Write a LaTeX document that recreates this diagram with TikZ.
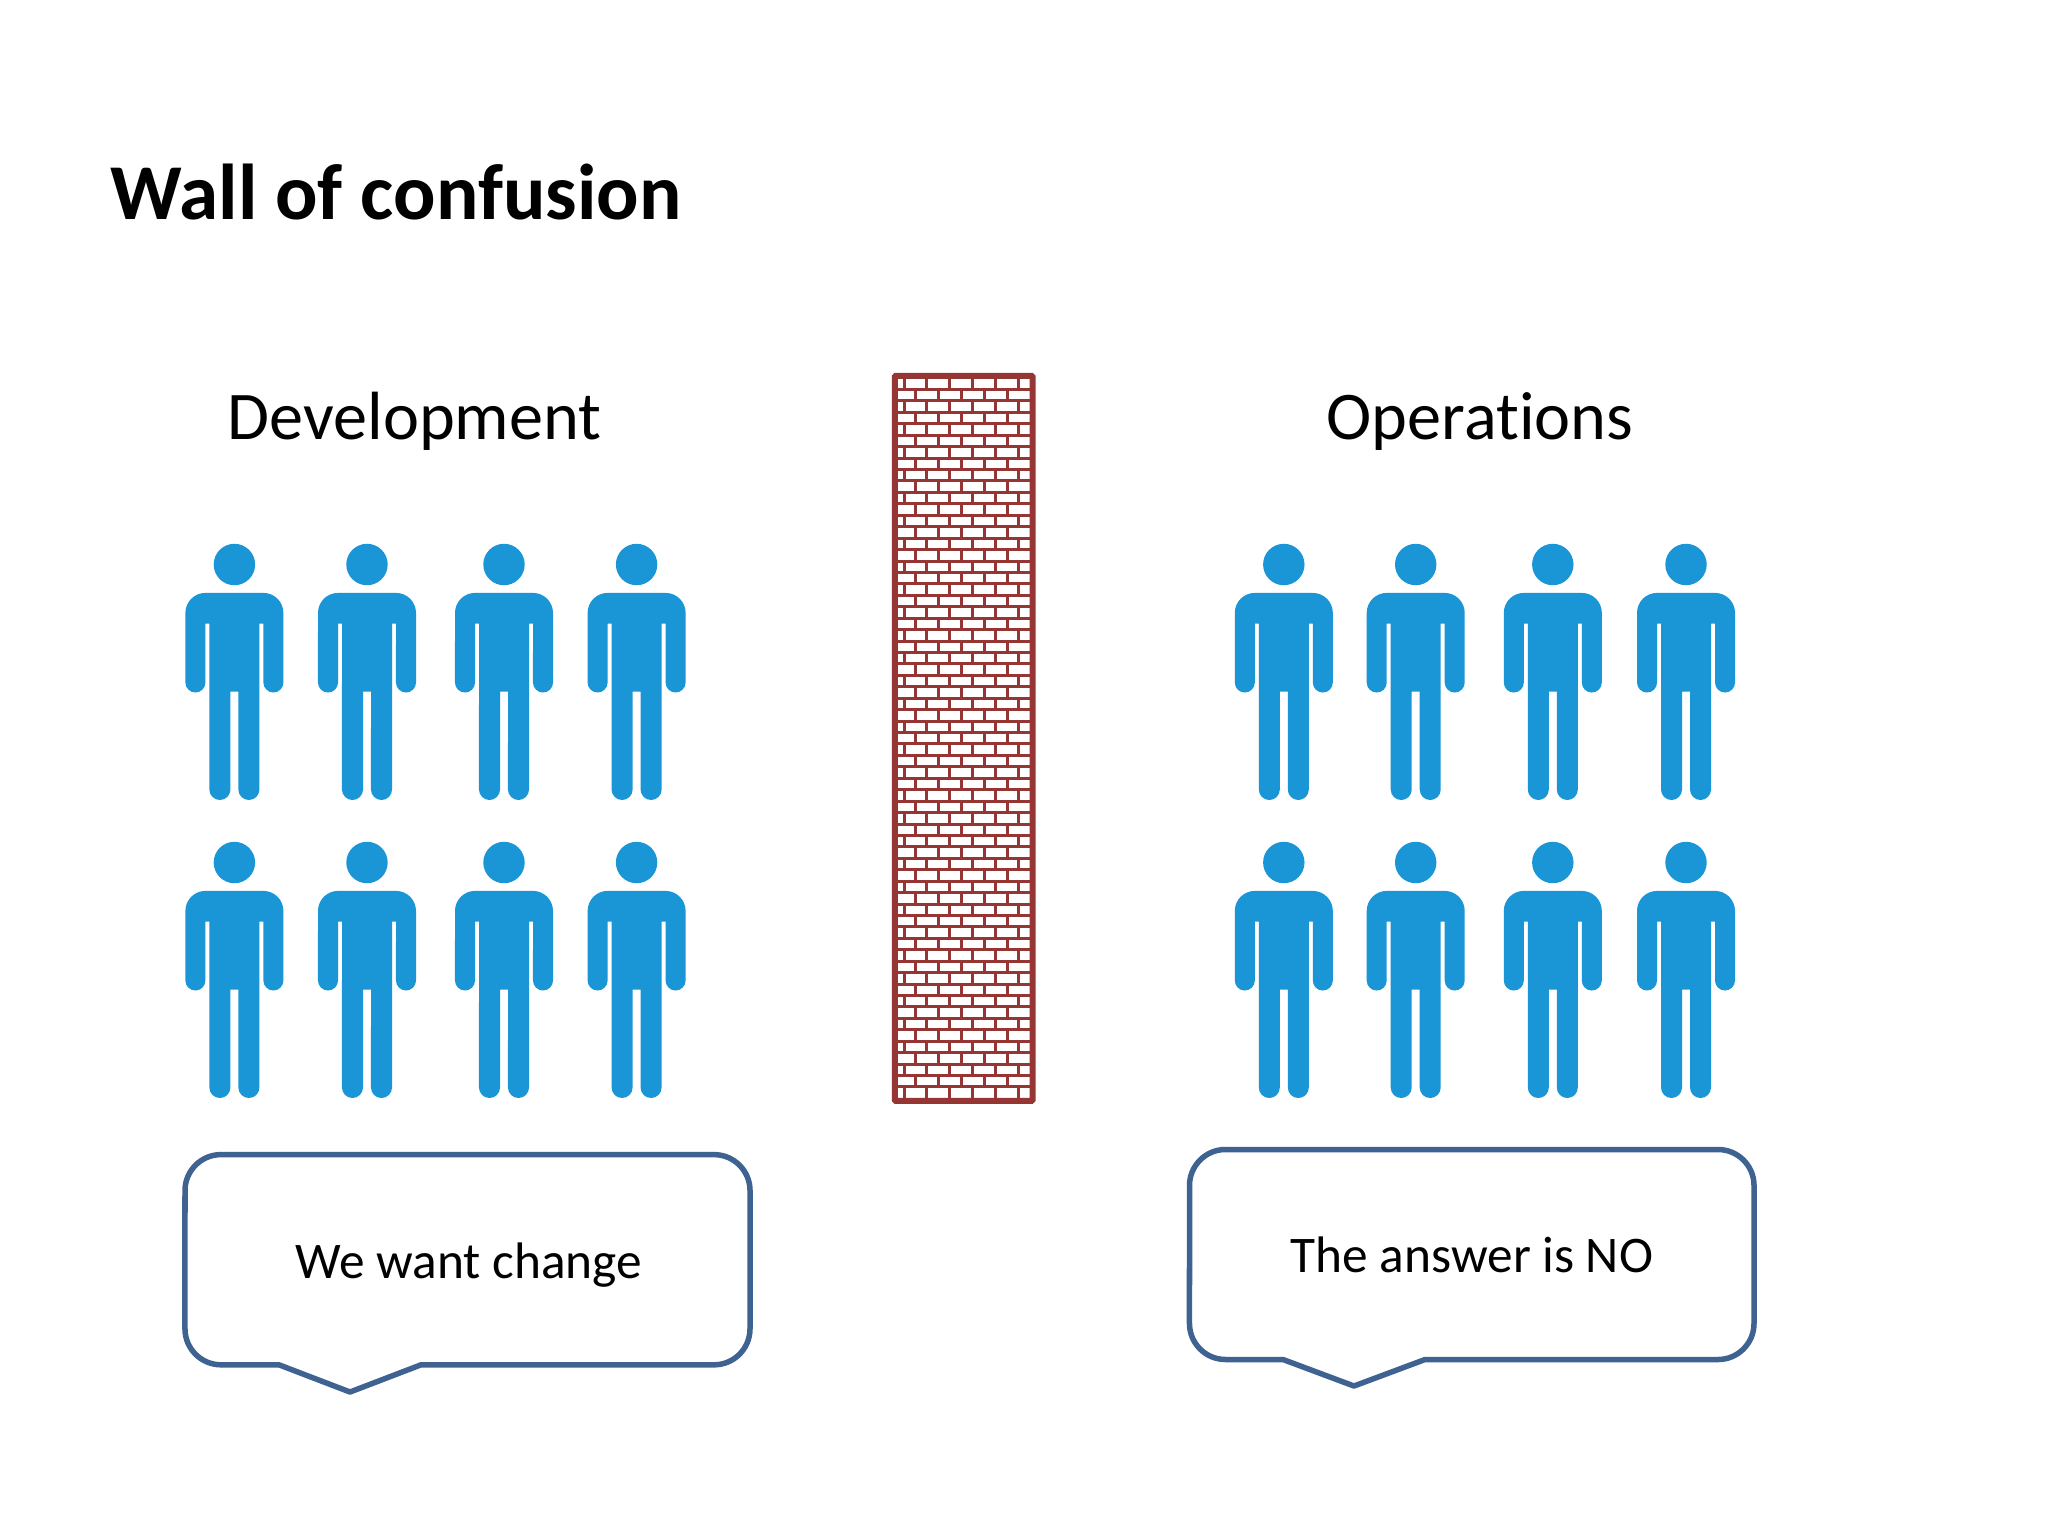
\documentclass[tikz,border=0pt]{standalone}
\usepackage{fontspec}
\setmainfont{Carlito}[Ligatures=NoCommon]
\definecolor{personblue}{HTML}{1A96D6}
\definecolor{wallred}{HTML}{963634}
\definecolor{bubbleblue}{HTML}{3E6391}
\tikzset{
  personshape/.pic={
    \fill[personblue] (0,1) circle[radius=0.207cm];
    \fill[personblue] (-29,29.4) -- (29,29.4) arc[start angle=90,end angle=0,radius=0.2cm] -- (49,119) arc[start angle=0,end angle=-180,radius=0.1cm] -- (29,60) -- (25,60) -- (25,226) arc[start angle=0,end angle=-180,radius=0.105cm] -- (4,128) -- (-4,128) -- (-4,226) arc[start angle=0,end angle=-180,radius=0.105cm] -- (-25,60) -- (-29,60) -- (-29,119) arc[start angle=0,end angle=-180,radius=0.1cm] -- (-49,49.4) arc[start angle=180,end angle=90,radius=0.2cm] -- cycle;
  },
  bubbleline/.style={draw=bubbleblue,line width=0.055cm,line join=round},
  mortar/.style={draw=wallred,line width=0.03cm},
  frameline/.style={draw=wallred,line width=0.06cm,rounded corners=0.01cm},
  titletext/.style={anchor=base west,inner sep=0,font=\bfseries\fontsize{22.5}{26}\selectfont,text=black},
  headtext/.style={anchor=base west,inner sep=0,font=\fontsize{19.4}{23}\selectfont,text=black},
  saytext/.style={anchor=base west,inner sep=0,font=\fontsize{14.6}{18}\selectfont,text=black},
}
\begin{document}
\begin{tikzpicture}[x=0.01cm,y=-0.01cm]
\useasboundingbox (0,0) rectangle (2048,1536);
\fill[white] (0,0) rectangle (2048,1536);
\node[titletext] (title) at (110,219) {Wall of confusion};
\node[headtext] (dev) at (227,439) {Development};
\node[headtext] (ops) at (1326,439) {Operations};
% people
\foreach \py in {563.5,861.5}{
  \foreach \px in {234.4,367,504,636.6,1283.8,1415.7,1552.8,1686}{
    \pic at (\px,\py) {personshape};
  }
}
% wall
\fill[white] (894.8,375.8) rectangle (1032.5,1100.8);
\begin{scope}
  \clip (894.8,375.8) rectangle (1032.5,1100.8);
  \foreach \r in {0,...,61}{
    \pgfmathsetmacro{\ly}{389.5+11.434*\r}
    \draw[mortar] (890,\ly) -- (1040,\ly);
  }
  \foreach \r in {0,...,62}{
    \pgfmathsetmacro{\ya}{378+11.434*\r}
    \pgfmathsetmacro{\yb}{389.5+11.434*\r}
    \pgfmathparse{int(mod(\r,2))}
    \ifnum\pgfmathresult=0
      \foreach \j in {0,...,5}{
        \pgfmathsetmacro{\vx}{904+22.85*\j}
        \draw[mortar] (\vx,\ya) -- (\vx,\yb);
      }
    \else
      \foreach \j in {0,...,4}{
        \pgfmathsetmacro{\vx}{915.7+22.85*\j}
        \draw[mortar] (\vx,\ya) -- (\vx,\yb);
      }
    \fi
  }
\end{scope}
\draw[frameline] (894.8,375.8) rectangle (1032.5,1100.8);
% bubbles
\draw[bubbleline] (221,1154.6) -- (714,1154.6) arc[start angle=90,end angle=0,radius=0.36cm]
  -- (750,1328.8) arc[start angle=0,end angle=-90,radius=0.36cm]
  -- (421,1364.8) -- (350,1392) -- (279,1364.8) -- (221,1364.8)
  arc[start angle=-90,end angle=-180,radius=0.36cm] -- (185,1190.6)
  arc[start angle=180,end angle=90,radius=0.36cm] -- cycle;
\draw[bubbleline] (1225.5,1149.5) -- (1718,1149.5) arc[start angle=90,end angle=0,radius=0.36cm]
  -- (1754,1323.5) arc[start angle=0,end angle=-90,radius=0.36cm]
  -- (1425,1359.5) -- (1354,1386) -- (1283,1359.5) -- (1225.5,1359.5)
  arc[start angle=-90,end angle=-180,radius=0.36cm] -- (1189.5,1185.5)
  arc[start angle=180,end angle=90,radius=0.36cm] -- cycle;
\node[saytext] (want) at (295,1278) {We want change};
\node[saytext] (no) at (1290,1272) {The answer is NO};
\end{tikzpicture}
\end{document}
